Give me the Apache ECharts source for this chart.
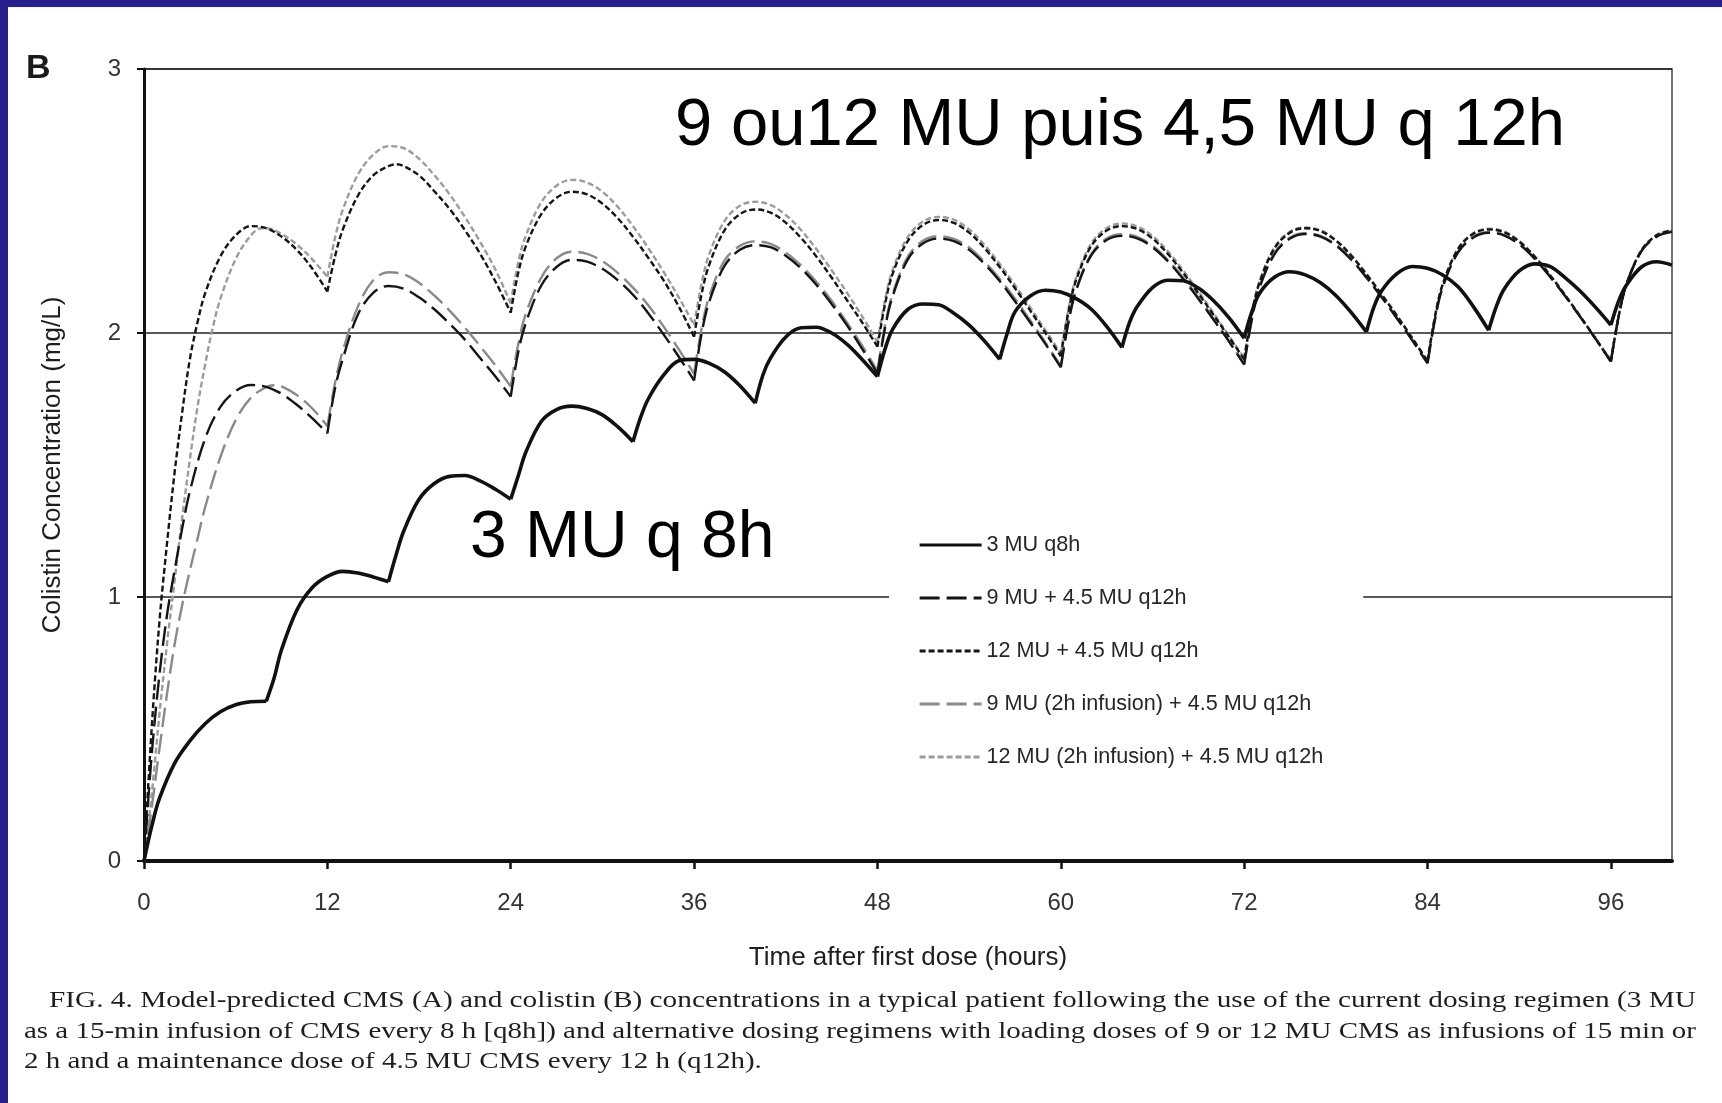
<!DOCTYPE html>
<html>
<head>
<meta charset="utf-8">
<title>Colistin concentration – dosing regimens</title>
<script src="https://cdn.jsdelivr.net/npm/echarts@6/dist/echarts.min.js"></script>
<style>
  html, body { margin: 0; padding: 0; background: #ffffff; }
  #chart { width: 1722px; height: 1103px; }
</style>
</head>
<body>
<div id="chart"></div>
<script>
// ---- axis ticks ----
const X_TICKS = [0, 12, 24, 36, 48, 60, 72, 84, 96];
const Y_TICKS = [0, 1, 2, 3];

// ---- dosing times (hours) ----
const DOSES_Q8 = [0, 8, 16, 24, 32, 40, 48, 56, 64, 72, 80, 88, 96];
const DOSES_Q12 = [0, 12, 24, 36, 48, 60, 72, 84, 96];

// ---- regimen names ----
const REGIMENS = [
  '3 MU q8h',
  '9 MU + 4.5 MU q12h',
  '12 MU + 4.5 MU q12h',
  '9 MU (2h infusion) + 4.5 MU q12h',
  '12 MU (2h infusion) + 4.5 MU q12h'
];

// ---- colistin concentration (mg/L) vs time (h) ----
const conc3MU = [
  [0,0],[0.5,0.13],[1,0.235],[2,0.37],[3,0.455],[4,0.52],[5,0.565],[6,0.592],[7,0.603],[8,0.605],
  [8.5,0.69],[9,0.8],[10,0.95],[11,1.035],[12,1.078],[13,1.097],[14,1.091],[15,1.076],[16,1.058],
  [16.5,1.16],[17,1.25],[18,1.37],[19,1.43],[20,1.457],[21,1.46],[22,1.44],[23,1.408],[24,1.37],
  [24.5,1.46],[25,1.55],[26,1.665],[27,1.71],[28,1.723],[29,1.714],[30,1.69],[31,1.645],[32,1.588],
  [32.5,1.68],[33,1.75],[34,1.84],[35,1.895],[36,1.9],[37,1.885],[38,1.852],[39,1.8],[40,1.734],
  [40.5,1.84],[41,1.905],[42,1.985],[43,2.02],[44,2.022],[45,2.0],[46,1.958],[47,1.9],[48,1.835],
  [48.5,1.94],[49,2.015],[50,2.09],[51,2.11],[52,2.107],[53,2.075],[54,2.03],[55,1.97],[56,1.9],
  [56.5,2.0],[57,2.08],[58,2.14],[59,2.162],[60,2.155],[61,2.13],[62,2.09],[63,2.025],[64,1.945],
  [64.5,2.04],[65,2.1],[66,2.172],[67,2.2],[68,2.198],[69,2.17],[70,2.122],[71,2.058],[72,1.98],
  [72.5,2.08],[73,2.15],[74,2.212],[75,2.232],[76,2.22],[77,2.19],[78,2.142],[79,2.078],[80,2.004],
  [80.5,2.1],[81,2.16],[82,2.225],[83,2.252],[84,2.245],[85,2.22],[86,2.175],[87,2.1],[88,2.01],
  [88.5,2.1],[89,2.165],[90,2.235],[91,2.262],[92,2.252],[93,2.21],[94,2.158],[95,2.097],[96,2.03],
  [96.5,2.12],[97,2.18],[98,2.25],[99,2.27],[100,2.257]
];

const conc9MU = [
  [0,0],[0.5,0.4],[1,0.7],[1.5,0.93],[2,1.1],[2.5,1.26],[3,1.4],[4,1.6],[5,1.72],[6,1.78],[7,1.803],[8,1.796],[9,1.77],[10,1.728],[11,1.678],[12,1.62],
  [12.5,1.79],[13,1.9],[14,2.07],[15,2.152],[16,2.178],[17,2.168],[18,2.135],[19,2.09],[20,2.035],[21,1.975],[22,1.905],[23,1.835],[24,1.759],
  [24.5,1.93],[25,2.04],[26,2.18],[27,2.25],[28,2.277],[29,2.27],[30,2.243],[31,2.2],[32,2.145],[33,2.075],[34,1.995],[35,1.91],[36,1.82],
  [36.5,2.0],[37,2.12],[38,2.255],[39,2.315],[40,2.333],[41,2.325],[42,2.293],[43,2.245],[44,2.183],[45,2.11],[46,2.03],[47,1.94],[48,1.847],
  [48.5,2.02],[49,2.14],[50,2.28],[51,2.34],[52,2.358],[53,2.348],[54,2.315],[55,2.262],[56,2.197],[57,2.12],[58,2.04],[59,1.958],[60,1.87],
  [60.5,2.04],[61,2.16],[62,2.295],[63,2.352],[64,2.368],[65,2.358],[66,2.325],[67,2.272],[68,2.205],[69,2.13],[70,2.05],[71,1.968],[72,1.88],
  [72.5,2.05],[73,2.17],[74,2.3],[75,2.358],[76,2.375],[77,2.365],[78,2.332],[79,2.278],[80,2.21],[81,2.135],[82,2.055],[83,1.972],[84,1.885],
  [84.5,2.055],[85,2.175],[86,2.305],[87,2.362],[88,2.38],[89,2.37],[90,2.336],[91,2.282],[92,2.214],[93,2.14],[94,2.06],[95,1.978],[96,1.892],
  [96.5,2.06],[97,2.18],[98,2.31],[99,2.365],[100,2.383]
];

const conc12MU = [
  [0,0],[0.5,0.5],[1,0.9],[1.5,1.2],[2,1.47],[2.5,1.7],[3,1.9],[3.5,2.04],[4,2.15],[5,2.29],[6,2.37],[7,2.405],[8,2.397],[9,2.365],[10,2.315],[11,2.245],[12,2.157],
  [12.5,2.29],[13,2.39],[14,2.52],[15,2.597],[16,2.632],[16.5,2.639],[17,2.632],[18,2.597],[19,2.537],[20,2.47],[21,2.39],[22,2.3],[23,2.195],[24,2.077],
  [24.5,2.23],[25,2.33],[26,2.45],[27,2.512],[28,2.535],[29,2.525],[30,2.49],[31,2.435],[32,2.365],[33,2.285],[34,2.2],[35,2.1],[36,1.986],
  [36.5,2.15],[37,2.26],[38,2.39],[39,2.45],[40,2.468],[41,2.456],[42,2.418],[43,2.36],[44,2.29],[45,2.21],[46,2.125],[47,2.04],[48,1.948],
  [48.5,2.11],[49,2.225],[50,2.35],[51,2.41],[52,2.428],[53,2.417],[54,2.38],[55,2.322],[56,2.25],[57,2.17],[58,2.085],[59,2.0],[60,1.912],
  [60.5,2.08],[61,2.2],[62,2.33],[63,2.388],[64,2.405],[65,2.394],[66,2.358],[67,2.3],[68,2.228],[69,2.15],[70,2.068],[71,1.985],[72,1.9],
  [72.5,2.07],[73,2.19],[74,2.322],[75,2.38],[76,2.397],[77,2.386],[78,2.35],[79,2.293],[80,2.222],[81,2.145],[82,2.065],[83,1.98],[84,1.893],
  [84.5,2.065],[85,2.185],[86,2.318],[87,2.376],[88,2.392],[89,2.382],[90,2.346],[91,2.29],[92,2.22],[93,2.143],[94,2.062],[95,1.978],[96,1.892],
  [96.5,2.06],[97,2.18],[98,2.312],[99,2.37],[100,2.388]
];

const conc9MU2h = [
  [0,0],[0.5,0.2],[1,0.42],[1.5,0.63],[2,0.82],[2.5,0.97],[3,1.1],[3.5,1.22],[4,1.34],[5,1.53],[6,1.67],[7,1.755],[8,1.795],[8.5,1.802],[9,1.798],[10,1.765],[11,1.715],[12,1.647],
  [12.5,1.81],[13,1.93],[14,2.1],[15,2.2],[16,2.23],[17,2.222],[18,2.19],[19,2.142],[20,2.085],[21,2.02],[22,1.95],[23,1.877],[24,1.797],
  [24.5,1.96],[25,2.075],[26,2.21],[27,2.283],[28,2.308],[29,2.3],[30,2.272],[31,2.228],[32,2.172],[33,2.105],[34,2.025],[35,1.938],[36,1.845],
  [36.5,2.02],[37,2.14],[38,2.275],[39,2.33],[40,2.347],[41,2.338],[42,2.305],[43,2.256],[44,2.194],[45,2.122],[46,2.04],[47,1.952],[48,1.857],
  [48.5,2.03],[49,2.15],[50,2.29],[51,2.35],[52,2.367],[53,2.357],[54,2.324],[55,2.27],[56,2.205],[57,2.13],[58,2.048],[59,1.963],[60,1.875],
  [60.5,2.045],[61,2.165],[62,2.3],[63,2.358],[64,2.374],[65,2.364],[66,2.331],[67,2.277],[68,2.21],[69,2.135],[70,2.054],[71,1.97],[72,1.883],
  [72.5,2.052],[73,2.172],[74,2.305],[75,2.362],[76,2.378],[77,2.368],[78,2.335],[79,2.281],[80,2.213],[81,2.138],[82,2.058],[83,1.974],[84,1.887],
  [84.5,2.057],[85,2.177],[86,2.308],[87,2.366],[88,2.382],[89,2.372],[90,2.338],[91,2.284],[92,2.216],[93,2.142],[94,2.062],[95,1.979],[96,1.894],
  [96.5,2.062],[97,2.182],[98,2.312],[99,2.368],[100,2.386]
];

const conc12MU2h = [
  [0,0],[0.5,0.25],[1,0.55],[1.5,0.82],[2,1.06],[2.5,1.3],[3,1.52],[3.5,1.72],[4,1.88],[4.5,2.02],[5,2.13],[6,2.28],[7,2.37],[7.7,2.397],[8,2.397],[9,2.375],[10,2.335],[11,2.28],[12,2.213],
  [12.5,2.36],[13,2.465],[14,2.6],[15,2.675],[16,2.708],[17,2.7],[18,2.66],[19,2.598],[20,2.525],[21,2.44],[22,2.345],[23,2.24],[24,2.112],
  [24.5,2.27],[25,2.37],[26,2.495],[27,2.558],[28,2.58],[29,2.57],[30,2.535],[31,2.478],[32,2.405],[33,2.322],[34,2.232],[35,2.135],[36,2.03],
  [36.5,2.19],[37,2.3],[38,2.425],[39,2.482],[40,2.497],[41,2.485],[42,2.447],[43,2.39],[44,2.318],[45,2.238],[46,2.153],[47,2.063],[48,1.965],
  [48.5,2.125],[49,2.24],[50,2.365],[51,2.423],[52,2.44],[53,2.429],[54,2.392],[55,2.334],[56,2.262],[57,2.182],[58,2.097],[59,2.01],[60,1.922],
  [60.5,2.09],[61,2.21],[62,2.34],[63,2.398],[64,2.415],[65,2.404],[66,2.368],[67,2.31],[68,2.238],[69,2.158],[70,2.075],[71,1.99],[72,1.905],
  [72.5,2.075],[73,2.195],[74,2.326],[75,2.384],[76,2.4],[77,2.389],[78,2.353],[79,2.296],[80,2.225],[81,2.148],[82,2.067],[83,1.982],[84,1.895],
  [84.5,2.067],[85,2.187],[86,2.32],[87,2.378],[88,2.395],[89,2.385],[90,2.349],[91,2.292],[92,2.222],[93,2.145],[94,2.064],[95,1.98],[96,1.895],
  [96.5,2.063],[97,2.183],[98,2.315],[99,2.372],[100,2.39]
];

// ---- annotation and caption text ----
const LABEL_LOADING = '9 ou12 MU puis 4,5 MU q 12h';
const LABEL_STANDARD = '3 MU q 8h';
const CAPTION_LINES = [
  'FIG. 4. Model-predicted CMS (A) and colistin (B) concentrations in a typical patient following the use of the current dosing regimen (3 MU',
  'as a 15-min infusion of CMS every 8 h [q8h]) and alternative dosing regimens with loading doses of 9 or 12 MU CMS as infusions of 15 min or',
  '2 h and a maintenance dose of 4.5 MU CMS every 12 h (q12h).'
];

// ---- styling ----
const SANS = '"Liberation Sans", Arial, Helvetica, sans-serif';
const SERIF = '"Liberation Serif", "Times New Roman", serif';
const FRAME_BLUE = '#25208a';

const regimenData = [conc3MU, conc9MU, conc12MU, conc9MU2h, conc12MU2h];
const regimenDoses = [DOSES_Q8, DOSES_Q12, DOSES_Q12, DOSES_Q12, DOSES_Q12];
const regimenLine = [
  { color: '#111111', width: 3.6, type: 'solid' },
  { color: '#151515', width: 2.4, type: [20, 7] },
  { color: '#151515', width: 2.4, type: [6, 3] },
  { color: '#8a8a8a', width: 2.4, type: [20, 7] },
  { color: '#9c9c9c', width: 2.4, type: [6, 3] }
];

// Each dosing interval is drawn as its own smooth piece so the
// concentration troughs at dose times stay sharp.
function splitAtDoses(points, doses) {
  const pieces = [];
  let cur = [];
  points.forEach(p => {
    cur.push(p);
    if (cur.length > 1 && doses.indexOf(p[0]) !== -1) {
      pieces.push(cur);
      cur = [p];
    }
  });
  if (cur.length > 1) pieces.push(cur);
  return pieces;
}

const series = [];
REGIMENS.forEach((name, i) => {
  splitAtDoses(regimenData[i], regimenDoses[i]).forEach(piece => {
    series.push({
      name: name,
      type: 'line',
      data: piece,
      symbol: 'none',
      smooth: 0.35,
      clip: true,
      lineStyle: regimenLine[i],
      itemStyle: { color: regimenLine[i].color },
      z: 10 - i,
      silent: true
    });
  });
});

// Caption lines are stretched to the caption block width.
const measureCtx = document.createElement('canvas').getContext('2d');
const CAPTION_FONT_SIZE = 23;
measureCtx.font = CAPTION_FONT_SIZE + 'px ' + SERIF;
const captionBox = [
  { x: 49, y: 1001, right: 1696 },
  { x: 24, y: 1032, right: 1696 },
  { x: 24, y: 1062, right: null }
];
const lineScales = captionBox.map((b, i) => {
  if (b.right === null) return null;
  return (b.right - b.x) / measureCtx.measureText(CAPTION_LINES[i]).width;
});
const captionGraphics = CAPTION_LINES.map((txt, i) => ({
  type: 'text',
  x: captionBox[i].x,
  y: captionBox[i].y,
  scaleX: lineScales[i] !== null ? lineScales[i] : lineScales[1],
  style: {
    text: txt,
    font: CAPTION_FONT_SIZE + 'px ' + SERIF,
    fill: '#1e1e1e',
    verticalAlign: 'middle',
    align: 'left'
  },
  silent: true
}));

const chart = echarts.init(document.getElementById('chart'), null, { renderer: 'canvas' });

chart.setOption({
  animation: false,
  backgroundColor: '#ffffff',
  grid: {
    left: 144,
    right: 50,
    top: 69,
    bottom: 242,
    show: true,
    borderColor: '#444444',
    borderWidth: 1.5,
    backgroundColor: 'transparent'
  },
  xAxis: {
    type: 'value',
    min: 0,
    max: 100,
    interval: 12,
    name: 'Time after first dose (hours)',
    nameLocation: 'middle',
    nameGap: 84,
    nameTextStyle: { fontFamily: SANS, fontSize: 26, color: '#1e1e1e' },
    axisLine: { show: true, onZero: false, lineStyle: { color: '#111111', width: 4 } },
    axisTick: { show: true, customValues: X_TICKS, length: 8, lineStyle: { color: '#111111', width: 2.5 } },
    axisLabel: { customValues: X_TICKS, margin: 30, fontFamily: SANS, fontSize: 24, color: '#333333' },
    splitLine: { show: false }
  },
  yAxis: {
    type: 'value',
    min: 0,
    max: 3,
    interval: 1,
    name: 'Colistin Concentration (mg/L)',
    nameLocation: 'middle',
    nameGap: 78,
    nameTextStyle: { fontFamily: SANS, fontSize: 26, color: '#1e1e1e' },
    axisLine: { show: true, lineStyle: { color: '#111111', width: 3 } },
    axisTick: { show: true, customValues: Y_TICKS, length: 7, lineStyle: { color: '#111111', width: 2 } },
    axisLabel: { customValues: Y_TICKS, margin: 23, fontFamily: SANS, fontSize: 24, color: '#333333' },
    splitLine: { show: true, lineStyle: { color: '#222222', width: 1.6 } }
  },
  legend: {
    data: REGIMENS,
    orient: 'vertical',
    left: 889,
    top: 523,
    padding: [11, 40, 12, 29],
    itemWidth: 62,
    itemHeight: 14,
    itemGap: 31,
    selectedMode: false,
    backgroundColor: '#ffffff',
    itemStyle: { opacity: 0 },
    lineStyle: { width: 3.2 },
    textStyle: { fontFamily: SANS, fontSize: 21.6, lineHeight: 21, color: '#262626' }
  },
  series: series,
  graphic: [
    { type: 'rect', shape: { x: 0, y: 0, width: 1722, height: 7 }, style: { fill: FRAME_BLUE }, silent: true },
    { type: 'rect', shape: { x: 0, y: 0, width: 8, height: 1103 }, style: { fill: FRAME_BLUE }, silent: true },
    {
      type: 'text', x: 26, y: 69,
      style: { text: 'B', font: 'bold 34px ' + SANS, fill: '#1a1a1a', verticalAlign: 'middle' },
      silent: true
    },
    {
      type: 'text', x: 675, y: 127,
      style: { text: LABEL_LOADING, font: '67px ' + SANS, fill: '#000000', verticalAlign: 'middle' },
      silent: true
    },
    {
      type: 'text', x: 470, y: 539,
      style: { text: LABEL_STANDARD, font: '66px ' + SANS, fill: '#000000', verticalAlign: 'middle' },
      silent: true
    }
  ].concat(captionGraphics)
});
</script>
</body>
</html>
